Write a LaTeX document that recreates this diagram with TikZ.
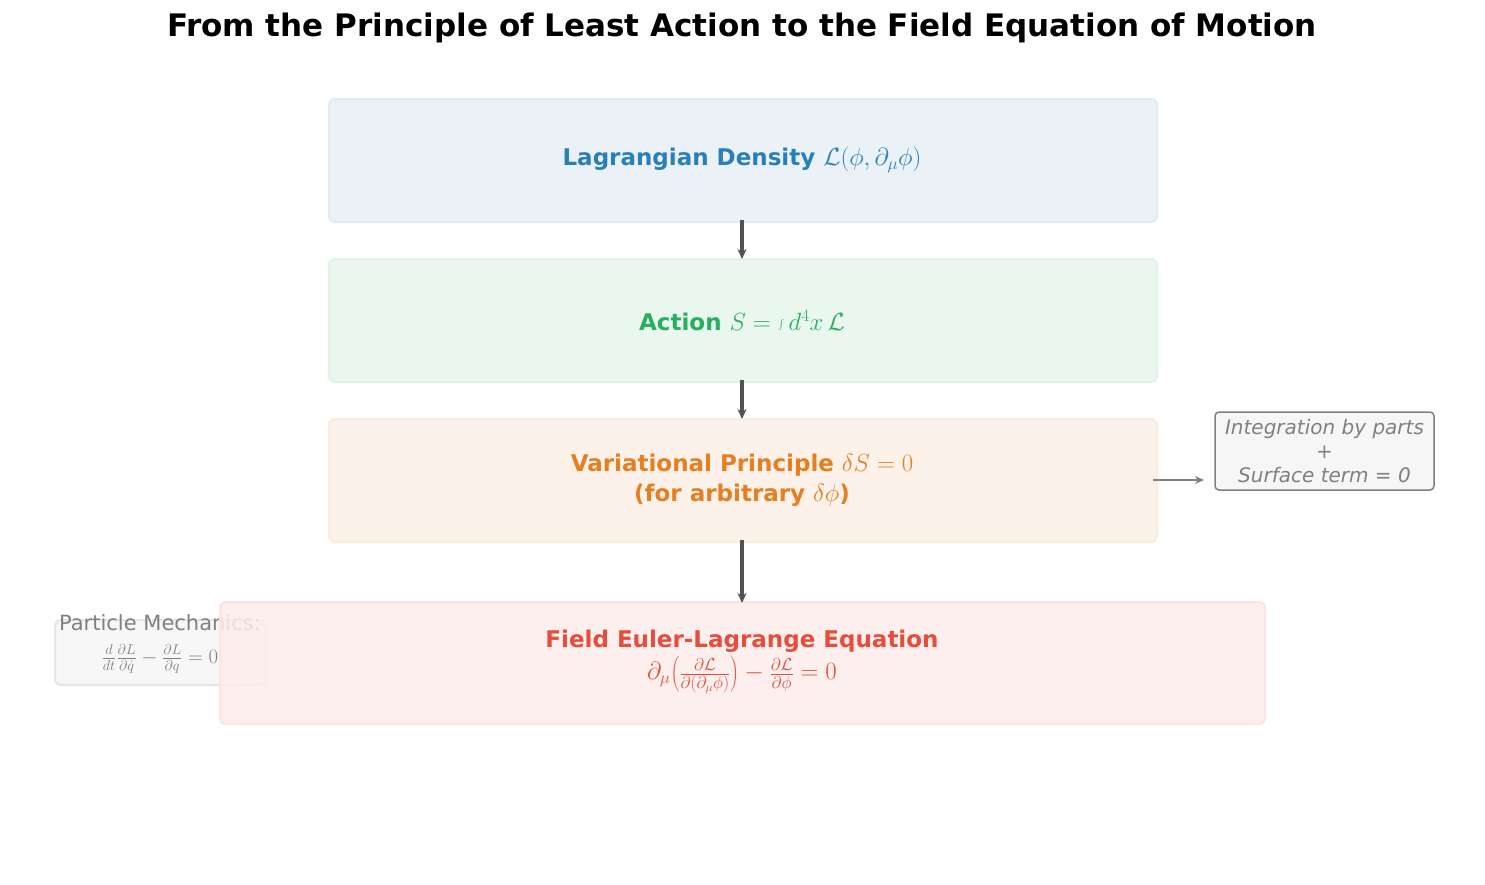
\documentclass[tikz,border=0pt]{standalone}
\usepackage{fontspec}
\setmainfont{DejaVu Sans}
\usetikzlibrary{arrows.meta}
\definecolor{cb}{HTML}{2980B9}\definecolor{cg}{HTML}{27AE60}
\definecolor{co}{HTML}{E67E22}\definecolor{cr}{HTML}{E74C3C}
\begin{document}
\begin{tikzpicture}[x=1pt,y=-1pt,
 box/.style={draw=#1!15,fill=#1!10,line width=2pt,rounded corners=6pt},
 lbl/.style={text=#1,font=\fontsize{23}{30}\selectfont\bfseries,align=center},
 arr/.style={-{Stealth[length=10pt,width=9pt]},line width=3.5pt,draw=black!68}]
\useasboundingbox[fill=white] (0,0) rectangle (1485,884);
\node[font=\fontsize{31}{36}\selectfont\bfseries] (title) at (742,28) {From the Principle of Least Action to the Field Equation of Motion};
\draw[box=gray,fill=gray!8,draw=gray!20,fill opacity=0.8] (55,620) rectangle (266,685);
\node[text=gray,font=\fontsize{21}{25}\selectfont] (pm) at (160,623) {Particle Mechanics:};
\node[text=gray,font=\fontsize{21}{25}\selectfont] (pme) at (160,659) {$\frac{d}{dt}\frac{\partial L}{\partial\dot q}-\frac{\partial L}{\partial q}=0$};
\draw[box=cb] (329,99) rectangle (1157,222);
\draw[box=cg] (329,259) rectangle (1157,382);
\draw[box=co] (329,419) rectangle (1157,542);
\draw[box=cr,fill opacity=0.85] (220,602) rectangle (1265,724);
\node[lbl=cb] (t1) at (742,160) {Lagrangian Density $\mathcal{L}(\phi,\partial_\mu\phi)$};
\node[lbl=cg] (t2) at (742,321) {Action $S=\int d^4x\,\mathcal{L}$};
\node[lbl=co] (t3) at (742,480) {Variational Principle $\delta S=0$\\(for arbitrary $\delta\phi$)};
\node[lbl=cr] (t4) at (742,662) {Field Euler-Lagrange Equation\\[2pt]\mdseries$\partial_\mu\!\left(\frac{\partial\mathcal{L}}{\partial(\partial_\mu\phi)}\right)-\frac{\partial\mathcal{L}}{\partial\phi}=0$};
\coordinate (a1s) at (742,220);\coordinate (a1e) at (742,259);
\coordinate (a2s) at (742,380);\coordinate (a2e) at (742,419);
\coordinate (a3s) at (742,540);\coordinate (a3e) at (742,603);
\draw[arr] (a1s)--(a1e);\draw[arr] (a2s)--(a2e);\draw[arr] (a3s)--(a3e);
\node[draw=gray,fill=gray!7,line width=1.5pt,rounded corners=4pt,minimum width=219pt,minimum height=78pt,text=gray,font=\fontsize{20}{24}\selectfont\itshape,align=center,inner sep=1pt] (side) at (1324.5,451) {Integration by parts\\+\\Surface term = 0};
\coordinate (as) at (1153,480);\coordinate (ae) at (1204,480);
\draw[-{Stealth[length=9pt,width=8pt]},line width=2.2pt,gray] (as)--(ae);
\end{tikzpicture}
\end{document}
